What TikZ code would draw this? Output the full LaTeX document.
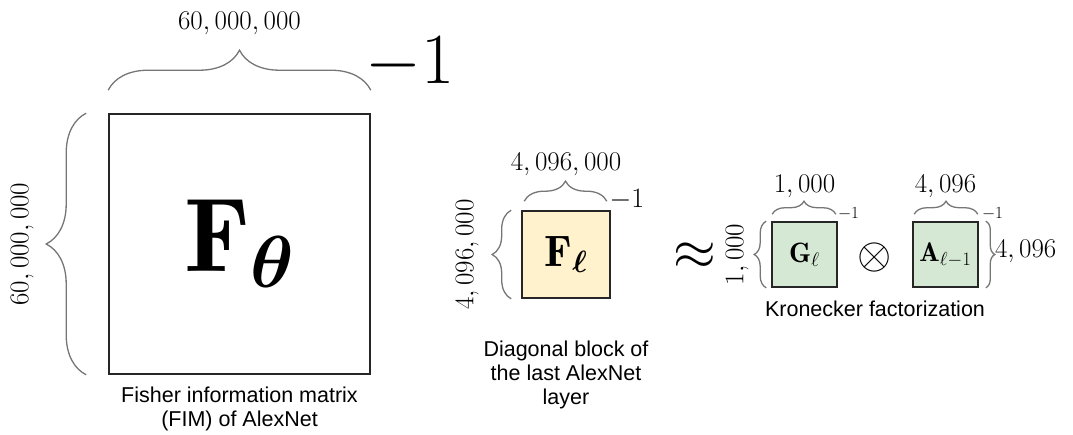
\documentclass[tikz,border=0pt]{standalone}
\usepackage{fix-cm}
\usepackage{amsmath}
\usepackage{fontspec}
\newfontfamily\capfont{Liberation Sans}
\usetikzlibrary{decorations.pathreplacing,positioning,calc}
\definecolor{BlockYellow}{HTML}{FFF2CC}
\definecolor{FactorGreen}{HTML}{D5E8D4}
\definecolor{BraceGray}{HTML}{767676}

\begin{document}
\begin{tikzpicture}[
  x=1pt, y=1pt,
  mat/.style={draw=black!85, line width=1.6pt, inner sep=0pt},
  curly/.style={decorate, decoration={brace, amplitude=#1}, draw=BraceGray, line width=1.3pt},
  dimlbl/.style={inner sep=0pt, font=\fontsize{27}{27}\selectfont},
  invlbl/.style={inner sep=0pt, anchor=base west},
  captxt/.style={inner sep=0pt, align=center, font=\capfont\fontsize{21.5}{24}\selectfont}
]
\useasboundingbox (0,0) rectangle (1073,-434);

% full FIM
\node[mat, minimum width=261pt, minimum height=260pt, font=\fontsize{105}{110}\selectfont] (fim) at (239.5,-244) {$\mathbf{F}_{\boldsymbol{\theta}}$};
\draw[curly=40] ([yshift=23pt]fim.north west) -- ([yshift=23pt]fim.north east);
\draw[curly=40] ([xshift=-22pt]fim.south west) -- ([xshift=-22pt]fim.north west);
\node[dimlbl, anchor=base] (fimtop) at ([yshift=84pt]fim.north) {$60,000,000$};
\node[dimlbl, rotate=90] (fimside) at ([xshift=-86pt]fim.west) {$60,000,000$};
\node[invlbl, font=\fontsize{72}{72}\selectfont] (fiminv) at ([shift={(-6pt,30pt)}]fim.north east) {$-1$};
\node[captxt, below=12pt of fim] (fimcap) {Fisher information matrix\\(FIM) of AlexNet};

% diagonal block
\node[mat, fill=BlockYellow, minimum width=88pt, minimum height=87pt, font=\fontsize{44}{44}\selectfont] (blk) at (566,-254.5) {$\mathbf{F}_{\boldsymbol{\ell}}$};
\draw[curly=20] ([shift={(3pt,9pt)}]blk.north west) -- ([shift={(-4pt,9pt)}]blk.north east);
\draw[curly=19] ([xshift=-10pt]blk.south west) -- ([xshift=-10pt]blk.north west);
\node[dimlbl, anchor=base] (blktop) at ([yshift=40pt]blk.north) {$4,096,000$};
\node[dimlbl, rotate=90] (blkside) at ([xshift=-54pt]blk.west) {$4,096,000$};
\node[invlbl, font=\fontsize{28}{28}\selectfont] (blkinv) at ([shift={(-1.5pt,3pt)}]blk.north east) {$-1$};
\node[captxt, below=42pt of blk] (blkcap) {Diagonal block of\\the last AlexNet\\layer};

% Kronecker factors
\node[inner sep=0pt, font=\fontsize{55}{55}\selectfont] (approx) at (695,-256) {$\approx$};
\node[mat, fill=FactorGreen, minimum size=65pt, font=\fontsize{28}{28}\selectfont] (gmat) at (804.5,-254.5) {$\mathbf{G}_{\ell}$};
\node[inner sep=0pt, font=\fontsize{44}{44}\selectfont] (kron) at (875,-257) {$\otimes$};
\node[mat, fill=FactorGreen, minimum size=65pt, font=\fontsize{27}{27}\selectfont] (amat) at (945.5,-254.5) {$\mathbf{A}_{\ell-1}$};
\draw[curly=13] ([shift={(1pt,7pt)}]gmat.north west) -- ([shift={(-2pt,7pt)}]gmat.north east);
\draw[curly=12] ([xshift=-5pt]gmat.south west) -- ([xshift=-5pt]gmat.north west);
\draw[curly=13] ([shift={(2pt,7pt)}]amat.north west) -- ([shift={(-1pt,7pt)}]amat.north east);
\draw[curly=9] ([xshift=7pt]amat.north east) -- ([xshift=7pt]amat.south east);
\node[dimlbl, anchor=base] (gtop) at ([yshift=29pt]gmat.north) {$1,000$};
\node[dimlbl, rotate=90] (gside) at ([xshift=-34pt]gmat.west) {$1,000$};
\node[invlbl, font=\fontsize{17}{17}\selectfont] (ginv) at ([shift={(0pt,3pt)}]gmat.north east) {$-1$};
\node[dimlbl, anchor=base] (atop) at ([yshift=29pt]amat.north) {$4,096$};
\node[dimlbl, anchor=west] (aside) at ([shift={(16pt,3pt)}]amat.east) {$4,096$};
\node[invlbl, font=\fontsize{17}{17}\selectfont] (ainv) at ([shift={(3pt,3pt)}]amat.north east) {$-1$};
\node[captxt, anchor=north] (kroncap) at ($(gmat.south)!.5!(amat.south)+(0,-13pt)$) {Kronecker factorization};
\end{tikzpicture}
\end{document}
